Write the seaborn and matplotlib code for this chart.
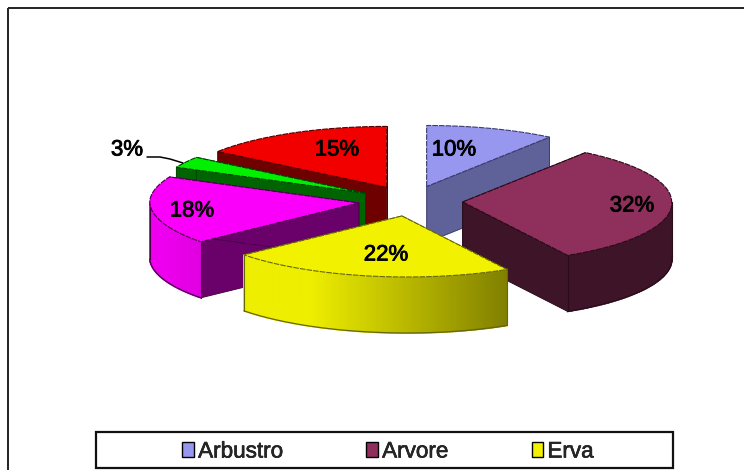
import numpy as np
import matplotlib
matplotlib.use("Agg")
import matplotlib.pyplot as plt
import matplotlib.patheffects as pe
from matplotlib.patches import Rectangle
from matplotlib.colors import to_rgb
import seaborn as sns

categories = ["Arbustro", "Arvore", "Erva", "Outros 1", "Outros 2", "Outros 3"]
values = [10, 32, 22, 18, 3, 15]
legend_categories = ["Arbustro", "Arvore", "Erva"]
labels = ["10%", "32%", "22%", "18%", "3%", "15%"]

top_colors = ["#9797f0", "#8f2f5c", "#f2f200", "#fa00fa", "#00f000", "#f20000"]
face_colors = ["#5f6299", "#3d1428", "#8a8a00", "#6a006a", "#006400", "#6e0000"]
wall_left = ["#5f6299", "#3d1428", "#eeee00", "#ee00ee", "#006400", "#6e0000"]
wall_right = ["#5f6299", "#3d1428", "#807f00", "#e000e0", "#006400", "#6e0000"]
edge_colors = ["#3a3c70", "#2a0c1a", "#66660a", "#4a004a", "#004000", "#500000"]

sns.set_theme(style="white")
plt.rcParams["font.family"] = ["Liberation Sans", "DejaVu Sans"]

fig = plt.figure(figsize=(7.44, 4.70), dpi=100)
ax = fig.add_axes([0, 0, 1, 1])
ax.set_xlim(0, 744)
ax.set_ylim(470, 0)
ax.axis("off")
fig.patch.set_facecolor("white")

CX, CY, RX, RY, DEPTH, EXPLODE, SHEAR = 410.5, 201, 209, 61, 56, 0.25, 0.08

fractions = np.array(values) / np.sum(values)
ends = np.cumsum(fractions) * 2 * np.pi
starts = ends - fractions * 2 * np.pi


def offset(t, r=1.0):
    return np.array([RX * r * np.sin(t), -RY * r * np.cos(t)])


def project(p):
    # slight skew of the near half, as a tilted 3-D pie shows it
    return np.array([p[0] + SHEAR * max(0.0, p[1] - CY), p[1]])


apexes = [np.array([CX, CY]) + offset((a + b) / 2, EXPLODE) for a, b in zip(starts, ends)]
down = np.array([0, DEPTH])


def draw_wedge(i):
    a, b = starts[i], ends[i]
    apex_raw = apexes[i]
    apex = project(apex_raw)
    edge = edge_colors[i]
    z = i_z[i]
    ts = np.linspace(a, b, 90)
    arc = np.array([project(apex_raw + offset(t)) for t in ts])
    for t in (a, b):
        p = project(apex_raw + offset(t))
        quad = np.array([apex, p, p + down, apex + down])
        ax.fill(quad[:, 0], quad[:, 1], color=face_colors[i], ec=edge, lw=0.7, zorder=z)
    front = ts[(ts >= np.pi / 2) & (ts <= 3 * np.pi / 2)]
    if len(front) > 1:
        pts = np.array([project(apex_raw + offset(t)) for t in front])
        lo, hi = pts[:, 0].min(), pts[:, 0].max()
        cl, cr = np.array(to_rgb(wall_left[i])), np.array(to_rgb(wall_right[i]))
        for p0, p1 in zip(pts[:-1], pts[1:]):
            f = ((p0[0] + p1[0]) / 2 - lo) / (hi - lo)
            f = np.clip((f - 0.25) / 0.75, 0, 1)
            c = cl + (cr - cl) * f
            quad = np.array([p0, p1, p1 + down, p0 + down])
            ax.fill(quad[:, 0], quad[:, 1], color=c, ec=c, lw=1.2, zorder=z)
        low = pts + down
        ax.plot(low[:, 0], low[:, 1], color=edge, lw=0.9, zorder=z)
        for p in (pts[0], pts[-1]):
            ax.plot([p[0], p[0]], [p[1], p[1] + DEPTH], color=edge, lw=0.8, zorder=z)
    poly = np.vstack([apex, arc])
    ax.fill(poly[:, 0], poly[:, 1], color=top_colors[i], ec=edge, lw=0.8,
            ls=(0, (5, 1)), zorder=z + 0.5)


draw_order = [0, 5, 4, 1, 3, 2]
i_z = {idx: 2 + n for n, idx in enumerate(draw_order)}
for idx in draw_order:
    draw_wedge(idx)

stroke = [pe.withStroke(linewidth=0.6, foreground="black")]
label_xy = [(454, 150), (632, 206), (386, 255), (192, 211), (127, 150), (337, 150)]
for (x, y), s in zip(label_xy, labels):
    ax.text(x, y, s, fontsize=16, color="black", ha="center", va="center",
            zorder=20, path_effects=stroke)
ax.plot([147, 160, 170, 183], [157, 157, 159, 163], color="black", lw=1.1, zorder=20)

# outer frame runs off the right and bottom edge of the picture
ax.add_patch(Rectangle((8, 8), 800, 500, fc="none", ec="#222222", lw=1.4, zorder=1))
ax.add_patch(Rectangle((96, 432), 577, 36, fc="white", ec="#111111", lw=1.6, zorder=21))
handles = [Rectangle((0, 0), 1, 1, fc=top_colors[categories.index(c)], ec="black", lw=1.0)
           for c in legend_categories]
leg = ax.legend(handles, legend_categories, ncol=3, frameon=False, loc="center",
                bbox_to_anchor=(388 / 744, 1 - 452 / 470), fontsize=16.2,
                handlelength=0.52, handleheight=0.62, handletextpad=0.18,
                columnspacing=3.7, borderpad=0, labelspacing=0, borderaxespad=0)
leg.set_zorder(22)
for t in leg.get_texts():
    t.set_path_effects([pe.withStroke(linewidth=0.4, foreground="black")])

fig.savefig("out.png", dpi=100)
